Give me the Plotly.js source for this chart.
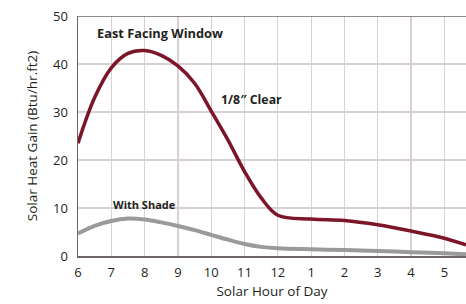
<!DOCTYPE html>
<html><head><meta charset="utf-8">
<script src="https://cdn.plot.ly/plotly-3.0.1.min.js"></script>
<style>html,body{margin:0;padding:0;background:#fff}#c{width:466px;height:304px}</style>
</head><body><div id="c"></div>
<script>
const hours = [6, 6.5, 7, 7.5, 8, 8.5, 9, 9.5, 10, 10.5, 11, 11.5, 12, 13, 14, 15, 16, 17, 17.65];
const clearGain = [23.5, 33, 39.2, 42.2, 42.8, 41.8, 39.6, 36, 30.2, 24.2, 17.6, 12.1, 8.5, 7.7, 7.4, 6.5, 5.2, 3.7, 2.3];
const shadeGain = [4.7, 6.3, 7.3, 7.8, 7.6, 7.0, 6.25, 5.4, 4.4, 3.4, 2.5, 1.9, 1.6, 1.4, 1.25, 1.05, 0.8, 0.55, 0.35];
const tickVals = [6, 7, 8, 9, 10, 11, 12, 13, 14, 15, 16, 17];
const tickText = ["6", "7", "8", "9", "10", "11", "12", "1", "2", "3", "4", "5"];
const font = "Open Sans, Noto Sans, sans-serif";
const data = [
  {x: hours, y: shadeGain, mode: "lines", line: {color: "#9a9a9a", width: 4, shape: "spline", smoothing: 1}, hoverinfo: "none"},
  {x: hours, y: clearGain, mode: "lines", line: {color: "#7b1527", width: 3.5, shape: "spline", smoothing: 1}, hoverinfo: "none"}
];
const layout = {
  width: 466, height: 304,
  margin: {l: 78, r: 0, t: 16, b: 48},
  paper_bgcolor: "#fff", plot_bgcolor: "#fff",
  showlegend: false,
  font: {family: font, size: 13, color: "#231f20"},
  xaxis: {
    range: [6, 17.65], tickvals: tickVals, ticktext: tickText,
    showgrid: true, gridcolor: "#d9d0d4", gridwidth: 1.2,
    zeroline: false, showline: true, linecolor: "#6e6367", linewidth: 1.5,
    ticks: "outside", ticklen: 4, tickcolor: "rgba(0,0,0,0)", tickfont: {size: 13},
    title: {text: "Solar Hour of Day", font: {size: 13.5}, standoff: 6}
  },
  yaxis: {
    range: [0, 50], tickvals: [0, 10, 20, 30, 40, 50],
    showgrid: true, gridcolor: "#d9d0d4", gridwidth: 1.2,
    zeroline: false, showline: true, linecolor: "#6e6367", linewidth: 1.5,
    ticks: "outside", ticklen: 6, tickcolor: "rgba(0,0,0,0)", tickfont: {size: 13},
    title: {text: "Solar Heat Gain (Btu/hr.ft2)", font: {size: 13.5}, standoff: 12}
  },
  shapes: [
    {type: "line", xref: "paper", yref: "y", x0: 0, x1: 1, y0: 50, y1: 50, line: {color: "#6e6367", width: 1.5}}
  ],
  annotations: [
    {text: "<b>East Facing Window</b>", x: 8.46, y: 46.5, xref: "x", yref: "y", showarrow: false, font: {size: 12.8}},
    {text: "<b>1/8\u2033 Clear</b>", x: 11.2, y: 32.6, xref: "x", yref: "y", showarrow: false, font: {size: 12.3}},
    {text: "<b>With Shade</b>", x: 8.0, y: 10.7, xref: "x", yref: "y", showarrow: false, font: {size: 11}}
  ]
};
Plotly.newPlot("c", data, layout, {staticPlot: true, displayModeBar: false});
</script>
</body></html>
